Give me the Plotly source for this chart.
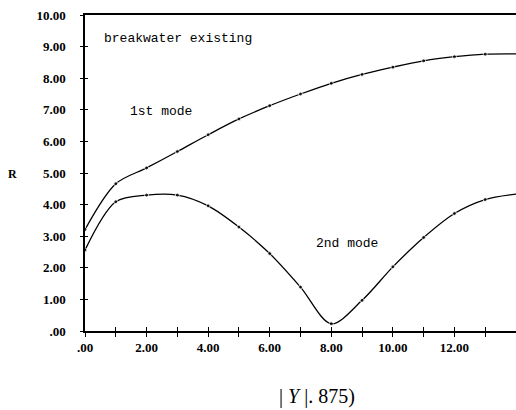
import plotly.graph_objects as go

# Reflection coefficient R versus x for the two modes (breakwater existing)
x_vals = [0, 1, 2, 3, 4, 5, 6, 7, 8, 9, 10, 11, 12, 13, 14]
mode1 = [3.21, 4.66, 5.16, 5.68, 6.21, 6.71, 7.13, 7.50, 7.84, 8.12, 8.35, 8.55, 8.68, 8.76, 8.77]
mode2 = [2.56, 4.09, 4.30, 4.30, 3.96, 3.29, 2.45, 1.39, 0.23, 0.97, 2.03, 2.96, 3.72, 4.16, 4.33]
# computed points carry a dot; the last value only continues the curve to the edge
dot_size = [4] * 14 + [0]

x_ticks = list(range(0, 14))
x_ticktext = [".00" if v == 0 else (f"{v}.00" if v % 2 == 0 else "") for v in x_ticks]
y_ticks = list(range(0, 11))
y_ticktext = [".00" if v == 0 else f"{v}.00" for v in y_ticks]

tick_font = dict(family="Liberation Sans Narrow", size=13, color="black", weight="bold")
note_font = dict(family="Liberation Mono", size=13, color="black")

fig = go.Figure()
for ys in (mode1, mode2):
    fig.add_trace(go.Scatter(
        x=x_vals, y=ys, mode="lines+markers",
        line=dict(color="black", width=1.3, shape="spline", smoothing=0.9),
        marker=dict(color="black", size=dot_size),
        showlegend=False, hoverinfo="skip",
    ))

fig.update_layout(
    width=516, height=410,
    margin=dict(l=85, r=0, t=15, b=79),
    paper_bgcolor="white", plot_bgcolor="white",
    xaxis=dict(
        range=[0, 14], tickvals=x_ticks, ticktext=x_ticktext,
        ticks="outside", ticklen=4, tickwidth=1.3, tickcolor="black",
        showline=True, linecolor="black", linewidth=1.5, mirror=True,
        showgrid=False, zeroline=False, tickfont=tick_font, ticklabelstandoff=0,
    ),
    xaxis2=dict(
        range=[0, 14], tickvals=x_ticks, ticks="inside", ticklen=4, tickwidth=1.3,
        tickcolor="black", showticklabels=False, showgrid=False, zeroline=False,
        overlaying="x", side="bottom", anchor="y",
    ),
    yaxis=dict(
        range=[0, 10], tickvals=y_ticks, ticktext=y_ticktext,
        ticks="outside", ticklen=3, tickwidth=1.3, tickcolor="black",
        showline=True, linecolor="black", linewidth=1.5,
        showgrid=False, zeroline=False, tickfont=tick_font, ticklabelstandoff=12,
    ),
    yaxis2=dict(
        range=[0, 10], tickvals=y_ticks, ticks="inside", ticklen=3, tickwidth=1.3,
        tickcolor="black", showticklabels=False, showgrid=False, zeroline=False,
        overlaying="y", side="left", anchor="x",
    ),
)

# invisible trace so the secondary tick axes get drawn
fig.add_trace(go.Scatter(x=[None], y=[None], xaxis="x2", yaxis="y2",
                         showlegend=False, hoverinfo="skip"))

fig.add_annotation(x=0.54, y=9.27, text="breakwater existing", showarrow=False,
                   xanchor="left", yanchor="middle", font=note_font)
fig.add_annotation(x=1.39, y=6.94, text="1st mode", showarrow=False,
                   xanchor="left", yanchor="middle", font=note_font)
fig.add_annotation(x=7.44, y=2.78, text="2nd mode", showarrow=False,
                   xanchor="left", yanchor="middle", font=note_font)
fig.add_annotation(xref="paper", yref="paper", x=-0.169, y=0.496, text="R",
                   showarrow=False, xanchor="center", yanchor="middle",
                   font=dict(family="Liberation Sans Narrow", size=12, color="black", weight="bold"))
fig.add_annotation(xref="paper", yref="paper", x=0.539, y=-0.207,
                   text="| <i>Y</i> |. 875)", showarrow=False,
                   xanchor="center", yanchor="middle",
                   font=dict(family="Liberation Serif", size=20, color="black"))

fig.write_html("out.html")
